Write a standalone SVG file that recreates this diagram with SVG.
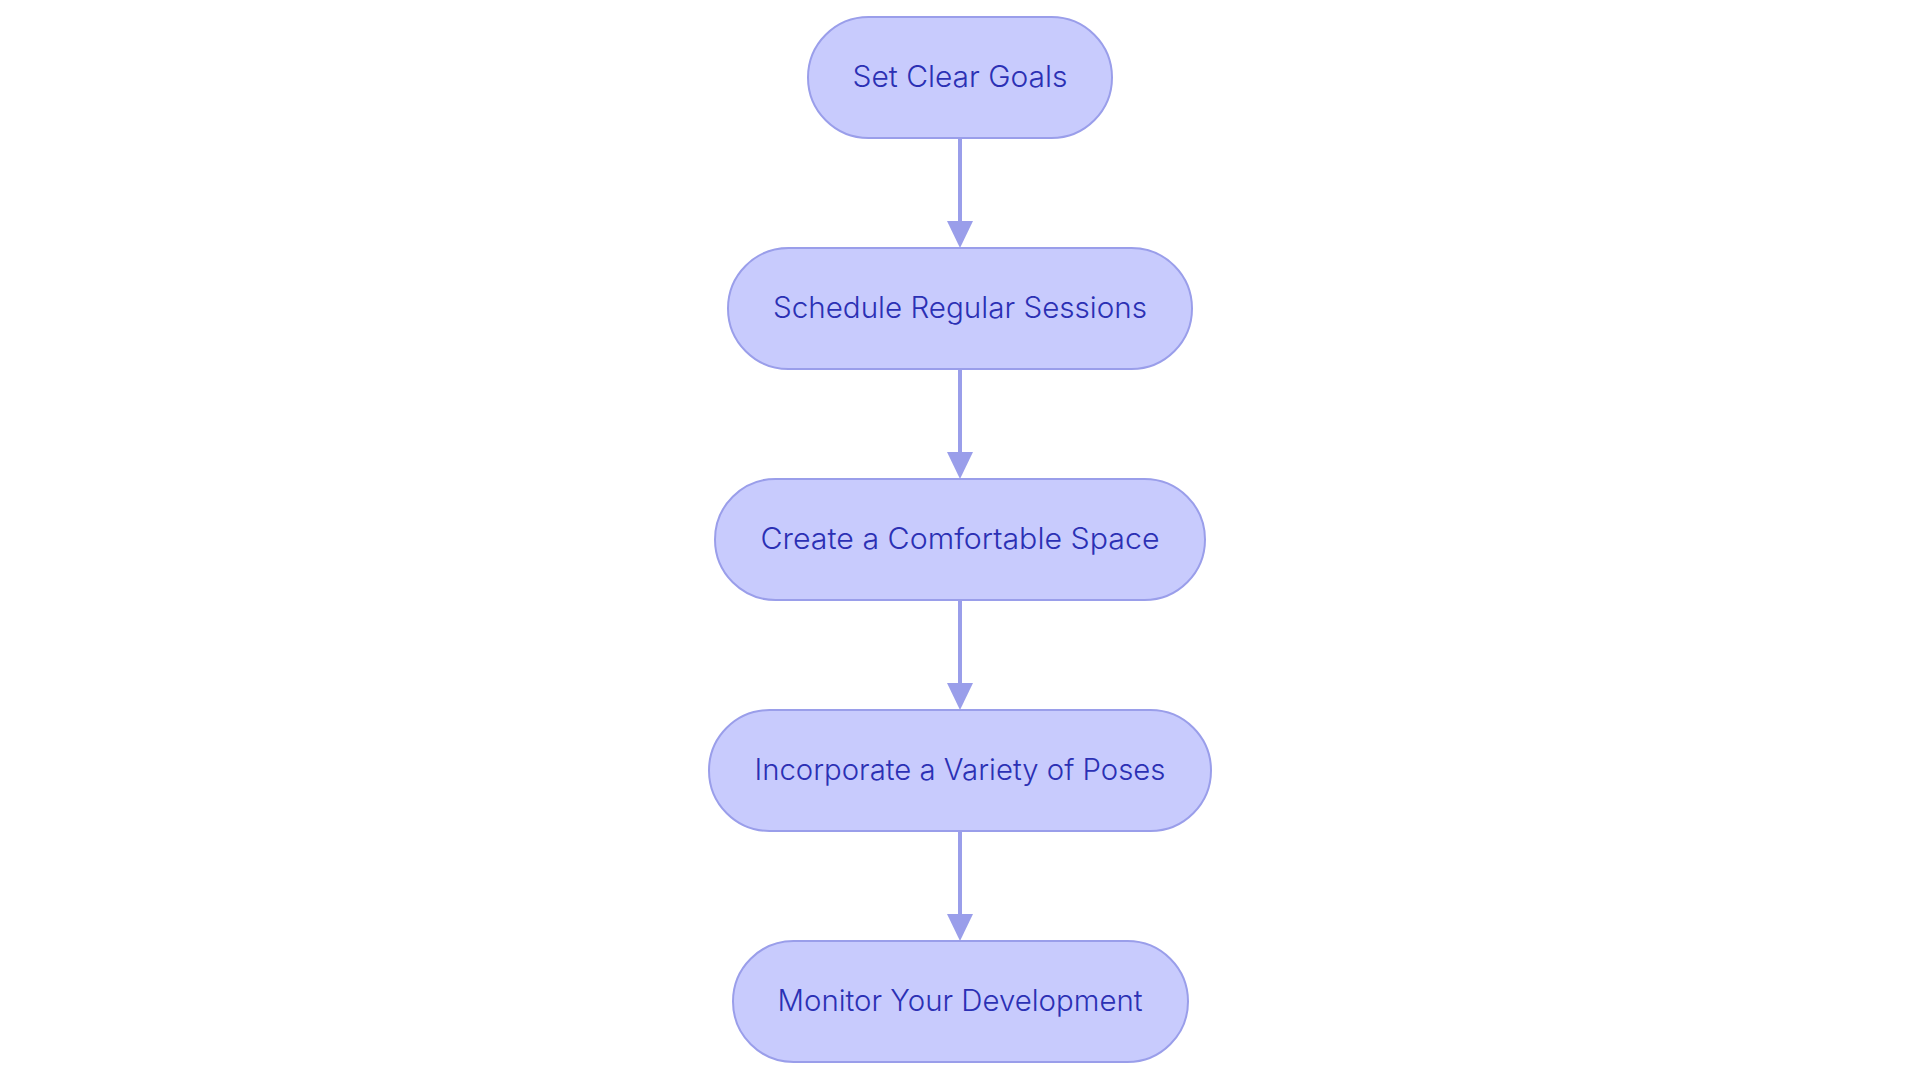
<svg xmlns="http://www.w3.org/2000/svg" width="1920" height="1083" viewBox="0 0 1920 1083">
<defs>
<style>
.node rect{fill:#c8cbfd;stroke:#9a9eea;stroke-width:2}
.node text{font-family:Inter,"Noto Sans","Liberation Sans",sans-serif;font-size:29.5px;font-weight:300;fill:#2b30b4;text-anchor:middle}
.edge{stroke:#9a9eea;stroke-width:4;fill:none}
.head{fill:#9a9eea}
</style>
</defs>
<rect width="1920" height="1083" fill="#ffffff"/>
<g id="connectors">
<line class="edge" x1="960" y1="138" x2="960" y2="224"/>
<polygon class="head" points="947,221 973,221 960,248"/>
<line class="edge" x1="960" y1="369" x2="960" y2="455"/>
<polygon class="head" points="947,452 973,452 960,479"/>
<line class="edge" x1="960" y1="600" x2="960" y2="686"/>
<polygon class="head" points="947,683 973,683 960,710"/>
<line class="edge" x1="960" y1="831" x2="960" y2="917"/>
<polygon class="head" points="947,914 973,914 960,941"/>
</g>
<g id="node1" class="node"><rect x="808" y="17" width="304" height="121" rx="60.5"/><text x="960" y="87" textLength="215" lengthAdjust="spacingAndGlyphs">Set Clear Goals</text></g>
<g id="node2" class="node"><rect x="728" y="248" width="464" height="121" rx="60.5"/><text x="960" y="318" textLength="374" lengthAdjust="spacingAndGlyphs">Schedule Regular Sessions</text></g>
<g id="node3" class="node"><rect x="715" y="479" width="490" height="121" rx="60.5"/><text x="960" y="549" textLength="399" lengthAdjust="spacingAndGlyphs">Create a Comfortable Space</text></g>
<g id="node4" class="node"><rect x="709" y="710" width="502" height="121" rx="60.5"/><text x="960" y="780" textLength="411" lengthAdjust="spacingAndGlyphs">Incorporate a Variety of Poses</text></g>
<g id="node5" class="node"><rect x="733" y="941" width="455" height="121" rx="60.5"/><text x="960" y="1011" textLength="365" lengthAdjust="spacingAndGlyphs">Monitor Your Development</text></g>
</svg>
